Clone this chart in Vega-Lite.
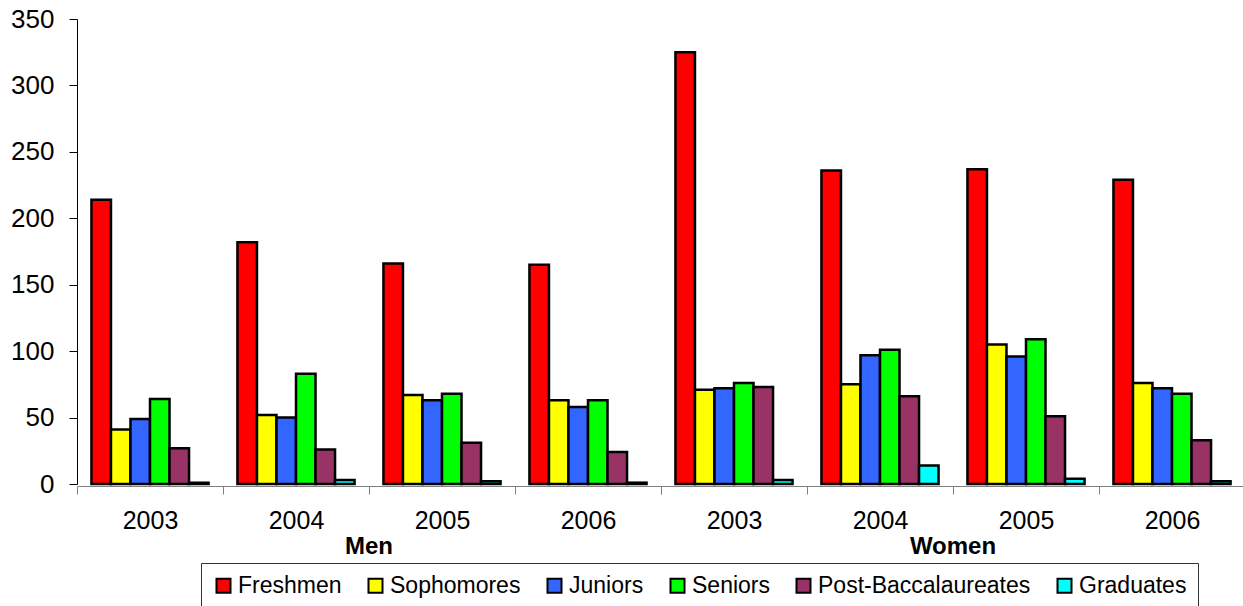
{
  "$schema": "https://vega.github.io/schema/vega-lite/v6.json",
  "padding": {"left": 10, "top": 6, "right": 0, "bottom": 0},
  "background": "white",
  "data": {"values": [
    {"gender": "Men", "year": "2003", "class": "Freshmen", "count": 214},
    {"gender": "Men", "year": "2003", "class": "Sophomores", "count": 41},
    {"gender": "Men", "year": "2003", "class": "Juniors", "count": 49},
    {"gender": "Men", "year": "2003", "class": "Seniors", "count": 64},
    {"gender": "Men", "year": "2003", "class": "Post-Baccalaureates", "count": 27},
    {"gender": "Men", "year": "2003", "class": "Graduates", "count": 1},
    {"gender": "Men", "year": "2004", "class": "Freshmen", "count": 182},
    {"gender": "Men", "year": "2004", "class": "Sophomores", "count": 52},
    {"gender": "Men", "year": "2004", "class": "Juniors", "count": 50},
    {"gender": "Men", "year": "2004", "class": "Seniors", "count": 83},
    {"gender": "Men", "year": "2004", "class": "Post-Baccalaureates", "count": 26},
    {"gender": "Men", "year": "2004", "class": "Graduates", "count": 3},
    {"gender": "Men", "year": "2005", "class": "Freshmen", "count": 166},
    {"gender": "Men", "year": "2005", "class": "Sophomores", "count": 67},
    {"gender": "Men", "year": "2005", "class": "Juniors", "count": 63},
    {"gender": "Men", "year": "2005", "class": "Seniors", "count": 68},
    {"gender": "Men", "year": "2005", "class": "Post-Baccalaureates", "count": 31},
    {"gender": "Men", "year": "2005", "class": "Graduates", "count": 2},
    {"gender": "Men", "year": "2006", "class": "Freshmen", "count": 165},
    {"gender": "Men", "year": "2006", "class": "Sophomores", "count": 63},
    {"gender": "Men", "year": "2006", "class": "Juniors", "count": 58},
    {"gender": "Men", "year": "2006", "class": "Seniors", "count": 63},
    {"gender": "Men", "year": "2006", "class": "Post-Baccalaureates", "count": 24},
    {"gender": "Men", "year": "2006", "class": "Graduates", "count": 1},
    {"gender": "Women", "year": "2003", "class": "Freshmen", "count": 325},
    {"gender": "Women", "year": "2003", "class": "Sophomores", "count": 71},
    {"gender": "Women", "year": "2003", "class": "Juniors", "count": 72},
    {"gender": "Women", "year": "2003", "class": "Seniors", "count": 76},
    {"gender": "Women", "year": "2003", "class": "Post-Baccalaureates", "count": 73},
    {"gender": "Women", "year": "2003", "class": "Graduates", "count": 3},
    {"gender": "Women", "year": "2004", "class": "Freshmen", "count": 236},
    {"gender": "Women", "year": "2004", "class": "Sophomores", "count": 75},
    {"gender": "Women", "year": "2004", "class": "Juniors", "count": 97},
    {"gender": "Women", "year": "2004", "class": "Seniors", "count": 101},
    {"gender": "Women", "year": "2004", "class": "Post-Baccalaureates", "count": 66},
    {"gender": "Women", "year": "2004", "class": "Graduates", "count": 14},
    {"gender": "Women", "year": "2005", "class": "Freshmen", "count": 237},
    {"gender": "Women", "year": "2005", "class": "Sophomores", "count": 105},
    {"gender": "Women", "year": "2005", "class": "Juniors", "count": 96},
    {"gender": "Women", "year": "2005", "class": "Seniors", "count": 109},
    {"gender": "Women", "year": "2005", "class": "Post-Baccalaureates", "count": 51},
    {"gender": "Women", "year": "2005", "class": "Graduates", "count": 4},
    {"gender": "Women", "year": "2006", "class": "Freshmen", "count": 229},
    {"gender": "Women", "year": "2006", "class": "Sophomores", "count": 76},
    {"gender": "Women", "year": "2006", "class": "Juniors", "count": 72},
    {"gender": "Women", "year": "2006", "class": "Seniors", "count": 68},
    {"gender": "Women", "year": "2006", "class": "Post-Baccalaureates", "count": 33},
    {"gender": "Women", "year": "2006", "class": "Graduates", "count": 2}
  ]},
  "facet": {
    "column": {
      "field": "gender", "type": "nominal", "sort": ["Men", "Women"],
      "header": {"title": null, "labelOrient": "bottom", "labelFontWeight": "bold", "labelFont": "Liberation Sans", "labelFontSize": 24, "labelColor": "black", "labelPadding": 2}
    }
  },
  "spacing": 0,
  "spec": {
    "width": 584,
    "height": 465,
    "mark": {"type": "bar", "stroke": "black", "strokeWidth": 2.5},
    "encoding": {
      "x": {
        "field": "year", "type": "nominal",
        "scale": {"paddingInner": 0, "paddingOuter": 0},
        "axis": {"title": null, "labelAngle": 0, "tickBand": "extent", "tickSize": 8, "tickColor": "#808080", "domainColor": "#808080", "labelFontSize": 25, "labelColor": "black", "labelPadding": 14}
      },
      "xOffset": {
        "field": "class", "type": "nominal",
        "sort": ["Freshmen", "Sophomores", "Juniors", "Seniors", "Post-Baccalaureates", "Graduates"],
        "scale": {"paddingInner": 0, "paddingOuter": 0.74}
      },
      "y": {
        "field": "count", "type": "quantitative",
        "scale": {"domain": [0, 350], "nice": false},
        "axis": {"title": null, "values": [0, 50, 100, 150, 200, 250, 300, 350], "tickSize": 8, "tickColor": "black", "domainColor": "black", "labelFontSize": 26, "labelColor": "black", "labelPadding": 15}
      },
      "color": {
        "field": "class", "type": "nominal",
        "sort": ["Freshmen", "Sophomores", "Juniors", "Seniors", "Post-Baccalaureates", "Graduates"],
        "scale": {
          "domain": ["Freshmen", "Sophomores", "Juniors", "Seniors", "Post-Baccalaureates", "Graduates"],
          "range": ["#FF0000", "#FFFF00", "#3366FF", "#00FF00", "#993366", "#00FFFF"]
        },
        "legend": {
          "title": null, "orient": "none", "legendX": 124, "legendY": 544,
          "direction": "horizontal", "symbolType": "square", "symbolSize": 196,
          "symbolStrokeColor": "black", "symbolStrokeWidth": 2, "symbolOpacity": 1,
          "labelFontSize": 23, "labelColor": "black", "labelLimit": 400, "labelOffset": 3,
          "columnPadding": 22, "strokeColor": "#333333", "padding": 11
        }
      }
    }
  },
  "config": {
    "font": "Liberation Sans",
    "view": {"stroke": null},
    "axis": {"grid": false, "ticks": true}
  }
}
